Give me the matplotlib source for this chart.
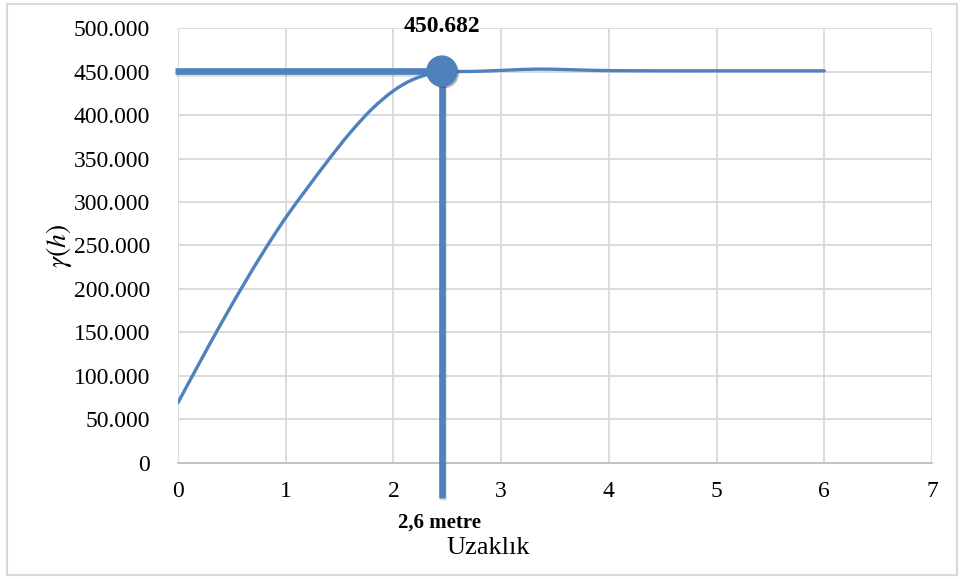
import matplotlib
matplotlib.use("Agg")
import numpy as np
import matplotlib.pyplot as plt
import matplotlib.patheffects as pe
from matplotlib.patches import Rectangle, PathPatch
from matplotlib.path import Path
from matplotlib.ticker import FixedLocator, FuncFormatter

plt.rcParams["font.family"] = ["Liberation Serif", "DejaVu Serif"]
plt.rcParams["mathtext.fontset"] = "stix"

# Experimental semivariogram readings (distance in metres, gamma in thousands)
distance = [0.0, 0.2, 0.4, 0.6, 0.8, 1.0, 1.2, 1.4, 1.6, 1.8, 2.0, 2.2, 2.45,
            2.6, 2.8, 3.0, 3.2, 3.4, 3.6, 3.8, 4.0, 4.5, 5.0, 5.5, 6.0]
gamma = [69, 115, 160, 203, 244, 282, 316, 349, 380, 407, 428, 442, 450.682,
         450.2, 450.6, 451.5, 452.6, 453.0, 452.5, 451.8, 451.3, 451.0, 451.0,
         451.0, 451.0]

# Range point (sill reached)
range_x = 2.45
range_y = 450.682
range_label = "450.682"
range_text = "2,6 metre"

x_ticks = [0, 1, 2, 3, 4, 5, 6, 7]
y_ticks = [0, 50, 100, 150, 200, 250, 300, 350, 400, 450, 500]

blue = "#4F81BD"
grid_gray = "#D9D9D9"


def smooth_path(xs, ys, tension=1 / 6):
    """Bezier path through the points, like a spreadsheet 'smoothed line'."""
    pts = np.column_stack([xs, ys]).astype(float)
    verts = [pts[0]]
    codes = [Path.MOVETO]
    n = len(pts)
    for i in range(n - 1):
        p0 = pts[i - 1] if i > 0 else pts[i]
        p1, p2 = pts[i], pts[i + 1]
        p3 = pts[i + 2] if i + 2 < n else pts[i + 1]
        c1 = p1 + (p2 - p0) * tension
        c2 = p2 - (p3 - p1) * tension
        verts += [c1, c2, p2]
        codes += [Path.CURVE4] * 3
    return Path(verts, codes)


fig = plt.figure(figsize=(9.63, 5.79), dpi=100)
fig.patch.set_facecolor("white")
fig.patches.append(Rectangle((7 / 963, 4 / 579), 950 / 963, 571 / 579,
                             transform=fig.transFigure, fill=False,
                             edgecolor=grid_gray, linewidth=1.5))

ax = fig.add_axes([178 / 963, 1 - 462.6 / 579, 754 / 963, 434.3 / 579])
ax.set_xlim(0, 7)
ax.set_ylim(0, 500)

ax.xaxis.set_major_locator(FixedLocator(x_ticks))
ax.yaxis.set_major_locator(FixedLocator(y_ticks))
ax.yaxis.set_major_formatter(FuncFormatter(lambda v, p: "0" if v == 0 else f"{v:.3f}"))
ax.xaxis.set_major_formatter(FuncFormatter(lambda v, p: f"{int(v)}"))
ax.tick_params(axis="both", length=0, labelsize=17, colors="#000000")
ax.tick_params(axis="y", pad=20)
ax.tick_params(axis="x", pad=13)

ax.grid(True, color=grid_gray, linewidth=1.3)
ax.set_axisbelow(True)
for side in ["top", "right", "left"]:
    ax.spines[side].set_visible(False)
ax.spines["bottom"].set_color("#BFBFBF")
ax.spines["bottom"].set_linewidth(1.3)

shadow = [pe.SimpleLineShadow(offset=(1.0, -1.0), alpha=0.18, shadow_color="#404040"),
          pe.Normal()]

# Guide lines to the range point
ax.plot([-0.03, range_x], [range_y, range_y], color=blue, linewidth=4.8,
        solid_capstyle="butt", clip_on=False, zorder=3, path_effects=shadow)
ax.plot([range_x, range_x], [range_y, -41], color=blue, linewidth=4.8,
        solid_capstyle="butt", clip_on=False, zorder=3, path_effects=shadow)

# Semivariogram curve (smoothed line)
ax.add_patch(PathPatch(smooth_path(distance, gamma), fill=False, edgecolor=blue,
                       linewidth=2.4, capstyle="round", joinstyle="round", zorder=4))

# Range marker
ax.scatter([range_x], [range_y], s=470, color=blue, zorder=5, clip_on=False,
           path_effects=[pe.withSimplePatchShadow(offset=(1.5, -1.5), alpha=0.35,
                                                  shadow_rgbFace="#303030")])

ax.annotate(range_label, (range_x, range_y), xytext=(0, 32), textcoords="offset points",
            ha="center", va="center", fontsize=17, fontweight="bold")

fig.text(439 / 963, 1 - 523 / 579, range_text, ha="center", va="center",
         fontsize=15, fontweight="bold")
fig.text(488 / 963, 1 - 548 / 579, "Uzaklık", ha="center", va="center", fontsize=19)
fig.text(59 / 963, 1 - 246 / 579, r"$\gamma(h)$", ha="center", va="center",
         fontsize=20, rotation=90)

fig.savefig("out.png", dpi=100, facecolor="white")
